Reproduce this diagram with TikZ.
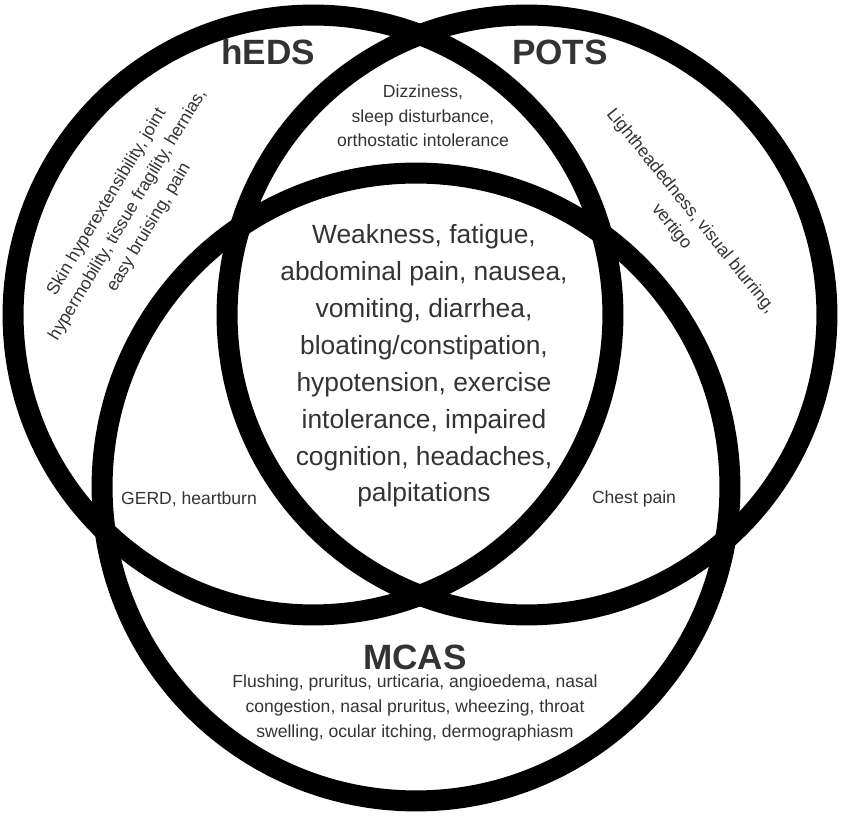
\documentclass[tikz,border=0pt]{standalone}
\usepackage{fontspec}
\setmainfont{Liberation Sans}
\usepackage{tikz}
\definecolor{txtgray}{HTML}{333333}

\tikzset{
  ring/.style={draw=black, line width=0.42cm},
  setname/.style={text=txtgray, font=\fontsize{20}{24}\selectfont\bfseries},
  symtxt/.style={text=txtgray, font=\fontsize{10}{14}\selectfont, align=center, inner sep=0pt},
  coretxt/.style={text=txtgray, font=\fontsize{15}{21}\selectfont, align=center, inner sep=0pt},
}

\begin{document}
\begin{tikzpicture}[x=0.02cm, y=-0.02cm]
\useasboundingbox (0, 0) rectangle (850, 820);

\draw[ring] (313, 315) circle (6cm);     % hEDS
\draw[ring] (527, 315) circle (6cm);     % POTS
\draw[ring] (416, 487) circle (6.28cm);  % MCAS

\node (heds) at (268, 52) [setname] {hEDS};
\node (pots) at (560, 52) [setname] {POTS};
\node (mcas) at (415, 657) [setname] {MCAS};

\node (hedsonly) at (128, 215) [symtxt, rotate=59] {Skin hyperextensibility, joint\\hypermobility, tissue fragility, hernias,\\easy bruising, pain};
\node (potsonly) at (681, 219) [symtxt, rotate=-51] {Lightheadedness, visual blurring,\\vertigo};
\node (mcasonly) at (415, 708) [symtxt] {Flushing, pruritus, urticaria, angioedema, nasal\\congestion, nasal pruritus, wheezing, throat\\swelling, ocular itching, dermographiasm};

\node (hedspots) at (423, 116) [symtxt] {Dizziness,\\sleep disturbance,\\orthostatic intolerance};
\node (hedsmcas) at (189, 499) [symtxt] {GERD, heartburn};
\node (potsmcas) at (634, 499) [symtxt] {Chest pain};

\node (allthree) at (424, 366) [coretxt] {Weakness, fatigue,\\abdominal pain, nausea,\\vomiting, diarrhea,\\bloating/constipation,\\hypotension, exercise\\intolerance, impaired\\cognition, headaches,\\palpitations};
\end{tikzpicture}
\end{document}
